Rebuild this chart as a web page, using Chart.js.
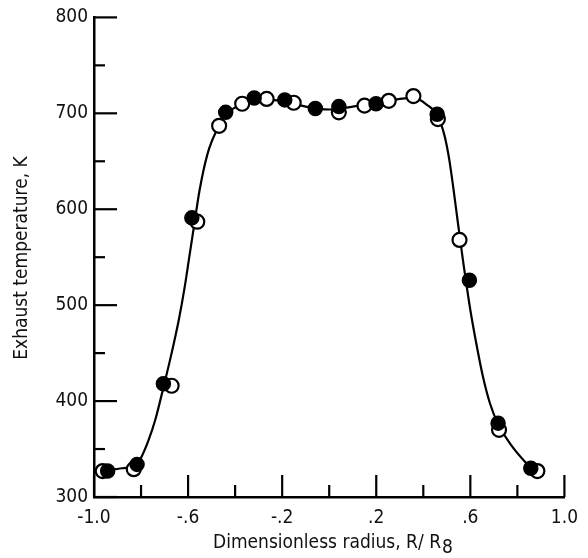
<!DOCTYPE html>
<html lang="en">
<head>
  <meta charset="UTF-8">
  <title>Exhaust temperature profile</title>
  <script src="https://cdn.jsdelivr.net/npm/chart.js"></script>
  <style>
    body { margin: 0; background: #fff; }
    #wrap { width: 588px; height: 558px; position: relative; }
  </style>
</head>
<body>
  <div id="wrap"><canvas id="tempChart"></canvas></div>

  <script>
    // values
    const filledR = [-0.942, -0.817, -0.705, -0.584, -0.44, -0.319, -0.189, -0.059, 0.041, 0.199, 0.459, 0.596, 0.718, 0.857];
    const filledT = [327, 334, 418, 591, 701, 716, 714, 705, 707, 710, 699, 526, 377, 330];
    const openR = [-0.963, -0.831, -0.67, -0.561, -0.468, -0.37, -0.266, -0.151, 0.041, 0.15, 0.253, 0.358, 0.462, 0.554, 0.722, 0.885];
    const openT = [327, 329, 416, 587, 687, 710, 715, 711, 701, 708, 713, 718, 694, 568, 370, 327];
    // faired curve
    const curveR = [-0.955, -0.88, -0.82, -0.80, -0.77, -0.74, -0.705, -0.67, -0.64, -0.615, -0.595, -0.575, -0.551, -0.517, -0.475, -0.44, -0.40, -0.36, -0.30, -0.20, -0.10, 0, 0.10, 0.20, 0.30, 0.36, 0.42, 0.459, 0.474, 0.49, 0.50, 0.511, 0.529, 0.546, 0.558, 0.572, 0.585, 0.60, 0.627, 0.655, 0.683, 0.718, 0.78, 0.857];
    const curveT = [328, 330, 334, 341, 358, 380, 414, 450, 484, 518, 550, 582, 620, 658, 684, 699, 706, 711, 714, 713, 707, 704, 707, 711, 715, 716, 708, 699, 690, 677, 666, 651, 620, 588, 566, 541, 519, 495, 458, 424, 398, 376, 352, 330];

    const xTickValues = [-1.0, -0.8, -0.6, -0.4, -0.2, 0, 0.2, 0.4, 0.6, 0.8, 1.0];
    const xTickLabels = ['-1.0', '', '-.6', '', '-.2', '', '.2', '', '.6', '', '1.0'];
    const yTickValues = [300, 350, 400, 450, 500, 550, 600, 650, 700, 750, 800];
    const yTickLabels = ['300', '', '400', '', '500', '', '600', '', '700', '', '800'];

    const FONT = '"DejaVu Sans Condensed", "DejaVu Sans", sans-serif';

    const pts = (xs, ys) => xs.map((x, i) => ({ x: x, y: ys[i] }));

    // inward ticks + axis titles
    const decorations = {
      id: 'decorations',
      afterDraw(chart) {
        const { ctx, chartArea, scales: { x, y } } = chart;
        ctx.save();
        ctx.strokeStyle = '#000';
        ctx.lineWidth = 2.2;
        xTickValues.forEach((v, i) => {
          const px = x.getPixelForValue(v);
          const len = xTickLabels[i] ? 22 : 12;
          ctx.beginPath();
          ctx.moveTo(px, chartArea.bottom);
          ctx.lineTo(px, chartArea.bottom - len);
          ctx.stroke();
        });
        yTickValues.forEach((v, i) => {
          const py = y.getPixelForValue(v);
          const len = yTickLabels[i] ? 23 : 11;
          ctx.beginPath();
          ctx.moveTo(chartArea.left, py);
          ctx.lineTo(chartArea.left + len, py);
          ctx.stroke();
        });

        ctx.fillStyle = '#111';
        ctx.font = '19px ' + FONT;
        ctx.textBaseline = 'alphabetic';
        // x title with subscript
        const main = 'Dimensionless radius, R/ R';
        const w = ctx.measureText(main).width;
        const sx = 213;
        ctx.textAlign = 'left';
        ctx.fillText(main, sx, 548);
        ctx.fillText('8', sx + w + 1, 553);

        // y title
        ctx.translate(27, 258);
        ctx.rotate(-Math.PI / 2);
        ctx.textAlign = 'center';
        ctx.fillText('Exhaust temperature, K', 0, 0);
        ctx.restore();
      }
    };

    const ctx = document.getElementById('tempChart').getContext('2d');
    new Chart(ctx, {
      type: 'scatter',
      data: {
        datasets: [
          {
            label: 'filled',
            data: pts(filledR, filledT),
            pointRadius: 7,
            pointBackgroundColor: '#000',
            pointBorderColor: '#000',
            pointBorderWidth: 1.5,
            order: 0
          },
          {
            label: 'open',
            data: pts(openR, openT),
            pointRadius: 7,
            pointBackgroundColor: '#fff',
            pointBorderColor: '#000',
            pointBorderWidth: 2.2,
            order: 1
          },
          {
            label: 'curve',
            data: pts(curveR, curveT),
            showLine: true,
            pointRadius: 0,
            borderColor: '#000',
            borderWidth: 2.2,
            cubicInterpolationMode: 'monotone',
            order: 2
          }
        ]
      },
      options: {
        responsive: true,
        maintainAspectRatio: false,
        animation: false,
        layout: { padding: { left: 0, right: 15, top: 14, bottom: 0 } },
        scales: {
          x: {
            type: 'linear',
            min: -1,
            max: 1,
            afterBuildTicks: s => { s.ticks = xTickValues.map(v => ({ value: v })); },
            afterFit: s => { s.height = 61; },
            grid: { drawOnChartArea: false, drawTicks: false },
            border: { display: true, color: '#000', width: 2.5 },
            ticks: {
              autoSkip: false,
              maxRotation: 0,
              padding: 10,
              color: '#111',
              font: { family: FONT, size: 19 },
              callback: (v, i) => xTickLabels[i]
            }
          },
          y: {
            type: 'linear',
            min: 300,
            max: 800,
            afterBuildTicks: s => { s.ticks = yTickValues.map(v => ({ value: v })); },
            afterFit: s => { s.width = 94; },
            grid: { drawOnChartArea: false, drawTicks: false },
            border: { display: true, color: '#000', width: 2.5 },
            ticks: {
              autoSkip: false,
              padding: 6,
              color: '#111',
              font: { family: FONT, size: 19 },
              callback: (v, i) => yTickLabels[i]
            }
          }
        },
        plugins: {
          legend: { display: false },
          tooltip: { enabled: false }
        }
      },
      plugins: [decorations]
    });
  </script>
</body>
</html>
